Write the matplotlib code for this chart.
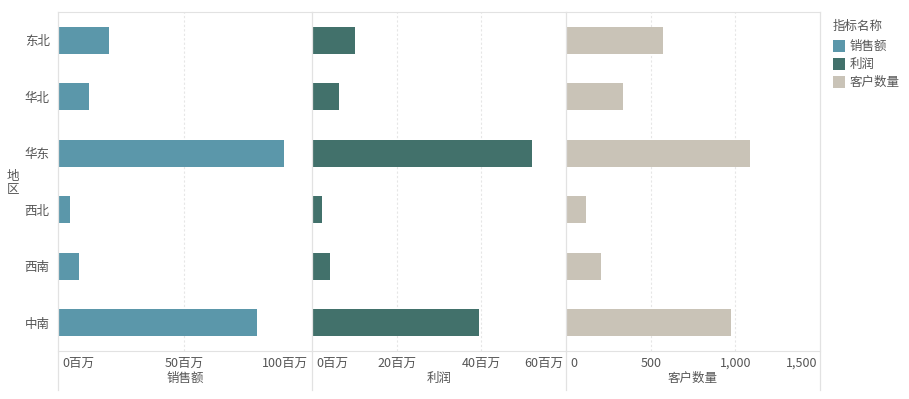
import matplotlib
matplotlib.use("Agg")
import matplotlib.pyplot as plt
from matplotlib.lines import Line2D
from matplotlib.patches import Rectangle
from matplotlib.transforms import ScaledTranslation

plt.rcParams['font.family'] = ['Noto Sans CJK SC', 'DejaVu Sans']

regions = ["东北", "华北", "华东", "西北", "西南", "中南"]
sales = [20.2, 12.3, 89.5, 4.9, 8.4, 78.5]          # 百万
profit = [10.1, 6.4, 52.0, 2.4, 4.2, 39.4]          # 百万
customers = [570, 338, 1085, 120, 208, 972]

measures = ["销售额", "利润", "客户数量"]
colors = ["#5b97aa", "#42716b", "#c9c3b7"]
ticks = [[0, 50, 100], [0, 20, 40, 60], [0, 500, 1000, 1500]]
tick_labels = [["0百万", "50百万", "100百万"],
               ["0百万", "20百万", "40百万", "60百万"],
               ["0", "500", "1,000", "1,500"]]
xmax = [100.4, 59.8, 1494]
data = [sales, profit, customers]

W, H = 909, 399
fig = plt.figure(figsize=(W / 100, H / 100), dpi=100)

text_color = "#555555"
line_color = "#e2e2e2"
top_px, bot_px = 12, 351
panel_x = [58, 312, 566]
panel_w = 254

axes = []
for i in range(3):
    ax = fig.add_axes([panel_x[i] / W, (H - bot_px) / H, panel_w / W, (bot_px - top_px) / H])
    y = list(range(len(regions)))
    ax.barh(y, data[i], height=0.48, color=colors[i], zorder=3)
    ax.set_ylim(len(regions) - 0.5, -0.5)
    ax.set_xlim(0, xmax[i])
    for s in ax.spines.values():
        s.set_visible(False)
    ax.spines['bottom'].set_visible(True)
    ax.spines['bottom'].set_color(line_color)
    ax.spines['top'].set_visible(True)
    ax.spines['top'].set_color(line_color)
    ax.set_xticks(ticks[i])
    ax.set_xticklabels(tick_labels[i], fontsize=9, color=text_color)
    ax.tick_params(axis='x', length=0, pad=4)
    labs = ax.get_xticklabels()
    labs[0].set_horizontalalignment('left')
    labs[0].set_transform(labs[0].get_transform() + ScaledTranslation(3 / 72, 0, fig.dpi_scale_trans))
    labs[-1].set_horizontalalignment('right')
    labs[-1].set_transform(labs[-1].get_transform() + ScaledTranslation(-2 / 72, 0, fig.dpi_scale_trans))
    for t in ticks[i][1:-1]:
        ax.axvline(t, color="#e6e6e6", lw=0.8, ls=(0, (2, 2)), zorder=1)
    ax.set_xlabel(measures[i], fontsize=9, color=text_color, labelpad=2)
    if i == 0:
        ax.set_yticks(y)
        ax.set_yticklabels(regions, fontsize=9, color=text_color)
        ax.tick_params(axis='y', length=0, pad=6)
    else:
        ax.set_yticks([])
    axes.append(ax)

# vertical panel borders extending down through the axis area
for xp in [58, 312, 566, 820]:
    fig.add_artist(Line2D([xp / W, xp / W], [(H - 390) / H, (H - top_px) / H],
                          color=line_color, lw=0.9, transform=fig.transFigure))

# y-axis title (stacked characters)
fig.text(13 / W, (H - 183) / H, "地\n区", fontsize=9, color=text_color,
         ha='center', va='center', linespacing=0.95)

# legend
fig.text(833 / W, (H - 26) / H, "指标名称", fontsize=9, color=text_color,
         ha='left', va='center')
for k, (m, c) in enumerate(zip(measures, colors)):
    yc = 46 + k * 18
    fig.add_artist(Rectangle((833 / W, (H - yc - 6) / H), 12 / W, 12 / H,
                             facecolor=c, edgecolor='none', transform=fig.transFigure))
    fig.text(850 / W, (H - yc) / H, m, fontsize=9, color=text_color,
             ha='left', va='center')

fig.savefig("out.png", dpi=100)
